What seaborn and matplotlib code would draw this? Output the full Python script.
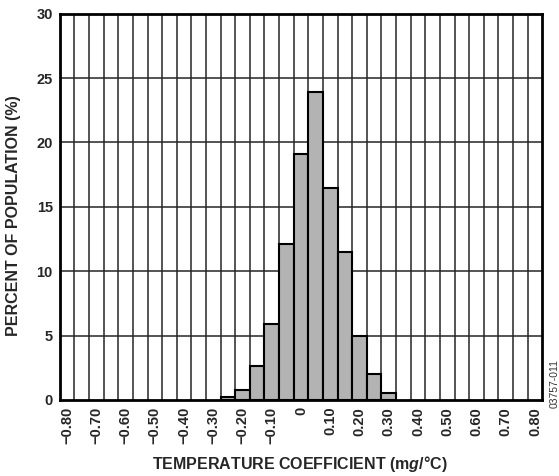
import numpy as np
import pandas as pd
import matplotlib
matplotlib.use('Agg')
import matplotlib.pyplot as plt
import seaborn as sns

# Histogram values (bin centres in mg/°C, percent)
bin_centers = [-0.25, -0.20, -0.15, -0.10, -0.05, 0.0, 0.05, 0.10, 0.15, 0.20, 0.25, 0.30]
percent = [0.25, 0.8, 2.6, 5.9, 12.1, 19.1, 23.9, 16.5, 11.5, 4.95, 2.0, 0.55]

tick_values = [-0.8, -0.7, -0.6, -0.5, -0.4, -0.3, -0.2, -0.1, 0.0,
               0.1, 0.2, 0.3, 0.4, 0.5, 0.6, 0.7, 0.8]
tick_labels = ['−0.80', '−0.70', '−0.60', '−0.50', '−0.40', '−0.30', '−0.20', '−0.10', '0',
               '0.10', '0.20', '0.30', '0.40', '0.50', '0.60', '0.70', '0.80']

sns.set_style('white')
plt.rcParams['font.family'] = ['Liberation Sans', 'DejaVu Sans']
plt.rcParams['mathtext.fontset'] = 'custom'
plt.rcParams['mathtext.it'] = 'Liberation Sans:bold:italic'

df = pd.DataFrame({'coef': bin_centers, 'pct': percent})

fig = plt.figure(figsize=(5.59, 4.76), dpi=100)
ax = fig.add_axes([0.107, 0.160, 0.863, 0.811])

bin_w = 0.05
edges = [round(-0.275 + bin_w * i, 3) for i in range(13)]
sns.histplot(data=df, x='coef', weights='pct', bins=edges, ax=ax,
             color='#b3b3b3', edgecolor='black', linewidth=1.5, alpha=1, zorder=3)

ax.set_xlim(-0.825, 0.825)
ax.set_ylim(0, 30)

# grid: vertical at bin edges, horizontal every 5 %
for xe in np.arange(-0.775, 0.80, bin_w):
    ax.axvline(xe, color='#262626', lw=1.1, zorder=1)
for yv in range(5, 30, 5):
    ax.axhline(yv, color='#262626', lw=1.1, zorder=1)

ax.set_xticks(tick_values)
ax.set_xticklabels(tick_labels, rotation=90, fontsize=10.5, fontweight='bold')
ax.set_yticks(range(0, 31, 5))
ax.set_yticklabels([str(v) for v in range(0, 31, 5)], fontsize=10.5, fontweight='bold')
ax.tick_params(length=0, pad=5)

for s in ax.spines.values():
    s.set_visible(True)
    s.set_color('black')
    s.set_linewidth(2.0)

ax.set_xlabel(r'TEMPERATURE COEFFICIENT (m$\it{g}$/°C)', fontsize=11.5, fontweight='bold')
ax.xaxis.set_label_coords(0.497, -0.140)
ax.xaxis.label.set_va('top')
ax.set_ylabel('PERCENT OF POPULATION (%)', fontsize=11.5, fontweight='bold')
ax.yaxis.set_label_coords(-0.081, 0.477)

fig.text(0.993, 0.143, '03757-011', rotation=90, fontsize=7.5, color='#333333',
         ha='center', va='bottom')

fig.savefig('out.png', dpi=100)
